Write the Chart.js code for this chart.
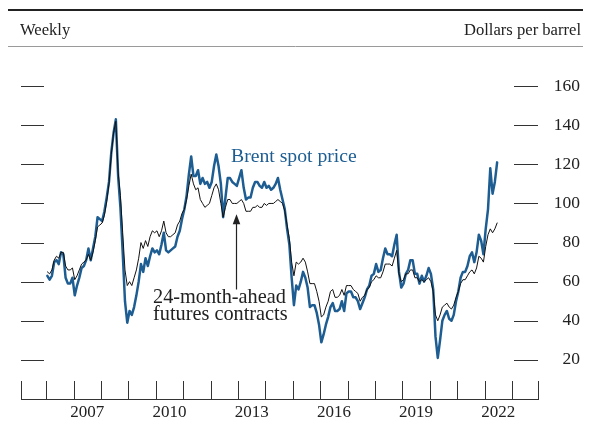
<!DOCTYPE html>
<html>
<head>
<meta charset="utf-8">
<script src="https://cdn.jsdelivr.net/npm/chart.js@4/dist/chart.umd.min.js"></script>
<style>
  html, body { margin: 0; padding: 0; background: #ffffff; }
  #wrap { width: 590px; height: 424px; }
</style>
</head>
<body>
<div id="wrap"><canvas id="c" width="590" height="424"></canvas></div>
<script>
// ---------- data (monthly readings of the weekly series, Jan 2006 - Jun 2022) ----------
const firstYear = 2006;
const brentSpot = [
  63, 61, 63, 70, 71, 69, 75, 74, 62, 59, 59, 62,        // 2006
  53, 58, 62, 67, 68, 71, 77, 71, 77, 83, 93, 92,        // 2007
  91, 96, 103, 111, 126, 136, 143, 114, 98, 75, 50, 39,  // 2008
  45, 43, 47, 53, 60, 69, 65, 72, 68, 73, 77, 75,        // 2009
  76, 74, 79, 85, 76, 75, 76, 77, 78, 83, 86, 92,        // 2010
  97, 104, 115, 124, 114, 114, 117, 110, 113, 110, 111, 108, // 2011
  111, 119, 125, 119, 110, 93, 103, 113, 113, 111, 110, 109, // 2012
  113, 117, 108, 102, 103, 103, 108, 111, 111, 109, 108, 111, // 2013
  108, 109, 107, 108, 110, 113, 107, 102, 97, 87, 79, 62,  // 2014
  48, 58, 56, 60, 65, 62, 57, 47, 48, 48, 44, 38,          // 2015
  29, 33, 38, 42, 47, 49, 45, 45, 46, 50, 45, 54,          // 2016
  55, 55, 52, 52, 50, 46, 49, 52, 56, 58, 63, 64,          // 2017
  69, 65, 66, 72, 77, 74, 74, 73, 79, 84, 65, 57,          // 2018
  59, 64, 66, 71, 71, 64, 64, 59, 63, 60, 63, 67,          // 2019
  64, 56, 32, 21, 30, 40, 43, 45, 41, 40, 43, 50,          // 2020
  55, 62, 65, 65, 68, 73, 75, 70, 75, 84, 81, 74,          // 2021
  87, 97, 118, 105, 111, 121                               // 2022
];
const futures24m = [
  65, 64, 66, 71, 73, 72, 75, 75, 68, 66, 66, 67,          // 2006
  61, 63, 66, 69, 70, 71, 74, 71, 75, 81, 88, 89,          // 2007
  90, 94, 101, 110, 125, 136, 142, 116, 104, 85, 66, 58,   // 2008
  60, 58, 62, 66, 72, 80, 77, 81, 78, 83, 86, 85,          // 2009
  86, 83, 86, 91, 85, 83, 83, 84, 85, 89, 91, 95,          // 2010
  97, 102, 109, 115, 110, 107, 108, 102, 100, 98, 99, 100, // 2011
  104, 108, 110, 107, 100, 93, 98, 102, 102, 100, 100, 100, // 2012
  101, 102, 100, 96, 96, 96, 98, 98, 99, 98, 98, 100,      // 2013
  99, 100, 100, 100, 101, 102, 101, 100, 96, 89, 82, 70,   // 2014
  63, 70, 69, 70, 72, 70, 65, 59, 59, 59, 55, 50,          // 2015
  42, 43, 47, 50, 55, 56, 52, 52, 53, 56, 53, 58,          // 2016
  58, 58, 56, 55, 54, 50, 52, 53, 56, 57, 60, 61,          // 2017
  63, 62, 62, 65, 69, 69, 69, 68, 72, 76, 64, 60,          // 2018
  61, 64, 64, 66, 66, 62, 62, 60, 61, 60, 61, 62,          // 2019
  60, 55, 43, 40, 43, 47, 48, 49, 47, 46, 48, 52,          // 2020
  55, 59, 61, 61, 63, 65, 66, 64, 67, 73, 72, 70,          // 2021
  78, 84, 87, 85, 87, 90                                   // 2022
];
const yearLabels = [2007, 2010, 2013, 2016, 2019, 2022];
const yearTickMarks = [2006, 2007, 2008, 2009, 2010, 2011, 2012, 2013, 2014, 2015, 2016, 2017, 2018, 2019, 2020, 2021, 2022, 2023];
const valueTicks = [20, 40, 60, 80, 100, 120, 140, 160];
const xMin = 2005.08, xMax = 2023.95;

const BLUE = '#1d5d92';
const INK = '#222222';
const SERIF = '"Liberation Serif", "DejaVu Serif", serif';

function monthX(i) { return firstYear + (i + 0.5) / 12; }
const spotPoints = brentSpot.map((v, i) => ({ x: monthX(i), y: v }));
const futPoints = futures24m.map((v, i) => ({ x: monthX(i), y: v }));

const decor = {
  id: 'decor',
  beforeDraw(chart) {
    const ctx = chart.ctx;
    ctx.save();
    // header rules
    ctx.strokeStyle = '#222';
    ctx.lineWidth = 2;
    ctx.beginPath(); ctx.moveTo(8, 10); ctx.lineTo(583, 10); ctx.stroke();
    ctx.strokeStyle = '#9a9a9a';
    ctx.lineWidth = 1;
    ctx.beginPath(); ctx.moveTo(8, 46.5); ctx.lineTo(583, 46.5); ctx.stroke();
    ctx.fillStyle = INK;
    ctx.font = '16.6px ' + SERIF;
    ctx.textBaseline = 'alphabetic';
    ctx.textAlign = 'left';
    ctx.fillText('Weekly', 20, 35);
    ctx.textAlign = 'right';
    ctx.fillText('Dollars per barrel', 581, 35);
    ctx.restore();
  },
  afterDraw(chart) {
    const ctx = chart.ctx;
    const xs = chart.scales.x, ys = chart.scales.y;
    const ca = chart.chartArea;
    ctx.save();
    ctx.strokeStyle = '#333';
    ctx.lineWidth = 1;
    // value dashes on both sides
    valueTicks.forEach(v => {
      const y = Math.round(ys.getPixelForValue(v)) + 0.5;
      ctx.beginPath();
      ctx.moveTo(ca.left, y); ctx.lineTo(ca.left + 23, y);
      ctx.moveTo(ca.right - 24, y); ctx.lineTo(ca.right, y);
      ctx.stroke();
    });
    // year tick marks rising from the axis
    const marks = [xMin].concat(yearTickMarks, [xMax]);
    marks.forEach(t => {
      const x = Math.round(xs.getPixelForValue(t)) + 0.5;
      ctx.beginPath();
      ctx.moveTo(x, ca.bottom); ctx.lineTo(x, ca.bottom - 18);
      ctx.stroke();
    });
    // annotations
    ctx.fillStyle = BLUE;
    ctx.font = '19.7px ' + SERIF;
    ctx.textAlign = 'left';
    ctx.textBaseline = 'alphabetic';
    ctx.fillText('Brent spot price', 231, 162);
    ctx.fillStyle = INK;
    ctx.font = '20.3px ' + SERIF;
    ctx.fillText('24-month-ahead', 153, 303);
    ctx.fillText('futures contracts', 153, 320);
    // arrow
    const ax = Math.round(xs.getPixelForValue(2012.93)) + 0.5;
    const aTop = ys.getPixelForValue(94.5);
    const aBot = ys.getPixelForValue(56);
    ctx.strokeStyle = INK;
    ctx.lineWidth = 1.2;
    ctx.beginPath(); ctx.moveTo(ax, aBot); ctx.lineTo(ax, aTop + 8); ctx.stroke();
    ctx.fillStyle = INK;
    ctx.beginPath();
    ctx.moveTo(ax, aTop); ctx.lineTo(ax - 3.8, aTop + 10); ctx.lineTo(ax + 3.8, aTop + 10); ctx.closePath();
    ctx.fill();
    ctx.restore();
  }
};

new Chart(document.getElementById('c'), {
  type: 'line',
  data: {
    datasets: [
      { label: '24-month-ahead futures contracts', data: futPoints, borderColor: '#111', borderWidth: 1, pointRadius: 0, tension: 0, fill: false, borderJoinStyle: 'round', borderCapStyle: 'round' },
      { label: 'Brent spot price', data: spotPoints, borderColor: BLUE, borderWidth: 2.5, pointRadius: 0, tension: 0, fill: false, borderJoinStyle: 'round', borderCapStyle: 'round' }
    ]
  },
  options: {
    responsive: false,
    animation: false,
    devicePixelRatio: 1,
    layout: { padding: { left: 21, top: 47, right: 10, bottom: 0 } },
    plugins: { legend: { display: false }, tooltip: { enabled: false }, title: { display: false } },
    scales: {
      x: {
        type: 'linear', position: 'bottom', min: xMin, max: xMax,
        afterBuildTicks: s => { s.ticks = yearLabels.map(y => ({ value: y + 0.5 })); },
        afterFit: s => { s.height = 25; },
        grid: { display: false, drawTicks: false },
        border: { display: true, color: '#333', width: 1 },
        ticks: { autoSkip: false, maxRotation: 0, padding: 3, color: INK,
                 font: { family: SERIF, size: 17 },
                 callback: v => String(Math.floor(v)) }
      },
      y: {
        type: 'linear', position: 'right', min: 0, max: 180,
        afterBuildTicks: s => { s.ticks = valueTicks.map(v => ({ value: v })); },
        afterFit: s => { s.width = 42; },
        grid: { display: false, drawTicks: false },
        border: { display: false },
        ticks: { crossAlign: 'far', padding: 0, color: INK, font: { family: SERIF, size: 17.5 } }
      }
    }
  },
  plugins: [decor]
});
</script>
</body>
</html>
